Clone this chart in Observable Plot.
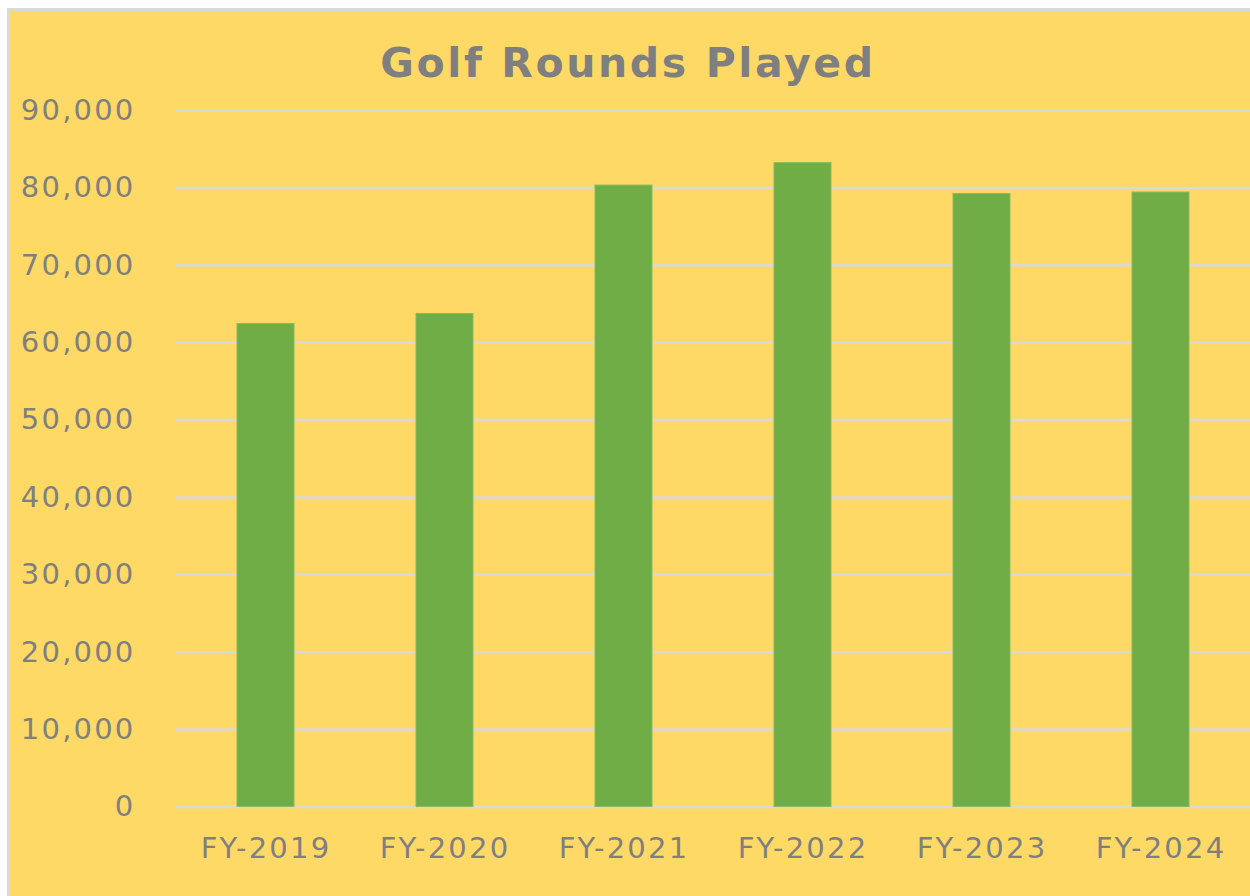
<!DOCTYPE html>
<html>
<head>
<meta charset="utf-8">
<script src="https://cdn.jsdelivr.net/npm/d3@7"></script>
<script src="https://cdn.jsdelivr.net/npm/@observablehq/plot@0.6"></script>
<style>
  html, body { margin: 0; padding: 0; background: #fff; }
  #chart { position: relative; width: 1250px; height: 896px; overflow: hidden; background: #fff; }
  #panel { position: absolute; left: 7px; top: 8px; width: 1246px; height: 900px; box-sizing: border-box;
           border: 3px solid #d9d9d9; background: #FFD966; }
  #title { position: absolute; left: 0; top: 0; width: 1256px; height: 95px; box-sizing: border-box;
           padding-top: 39px; text-align: center; font-family: "DejaVu Sans", sans-serif; font-weight: bold;
           font-size: 41px; line-height: normal; color: #7f7f7f; letter-spacing: 2.6px; }
  #plot { position: absolute; left: 0; top: 60px; }
  #plot svg { background: transparent; }
</style>
</head>
<body>
<div id="chart">
  <div id="panel"></div>
  <div id="title">Golf Rounds Played</div>
  <div id="plot"></div>
</div>
<script>
const years = ["FY-2019", "FY-2020", "FY-2021", "FY-2022", "FY-2023", "FY-2024"];
const rounds = [62400, 63700, 80300, 83200, 79200, 79400];
const yTicks = [0, 10000, 20000, 30000, 40000, 50000, 60000, 70000, 80000, 90000];

const data = years.map((y, i) => ({year: y, rounds: rounds[i]}));

const plot = Plot.plot({
  width: 1250,
  height: 836,
  marginTop: 50,
  marginBottom: 89.5,
  marginLeft: 175,
  marginRight: 0,
  style: {
    background: "transparent",
    fontFamily: "DejaVu Sans, sans-serif",
    fontSize: "29px",
    color: "#7f7f7f",
    letterSpacing: "2.2px",
    overflow: "visible"
  },
  x: {domain: years, paddingInner: 0.684, paddingOuter: 0.342, label: null},
  y: {domain: [0, 90000], label: null},
  marks: [
    Plot.ruleY(yTicks, {stroke: "#d9d9d9", strokeWidth: 2.5, strokeOpacity: 1}),
    Plot.barY(data, {x: "year", y: "rounds", fill: "#70AD47", stroke: "#86bb5c", strokeWidth: 1}),
    Plot.axisY({ticks: yTicks, tickFormat: d3.format(","), tickSize: 0, tickPadding: 40, label: null, fill: "#7f7f7f"}),
    Plot.axisX({tickSize: 0, tickPadding: 30, label: null, fill: "#7f7f7f"})
  ]
});
document.getElementById("plot").appendChild(plot);
</script>
</body>
</html>
